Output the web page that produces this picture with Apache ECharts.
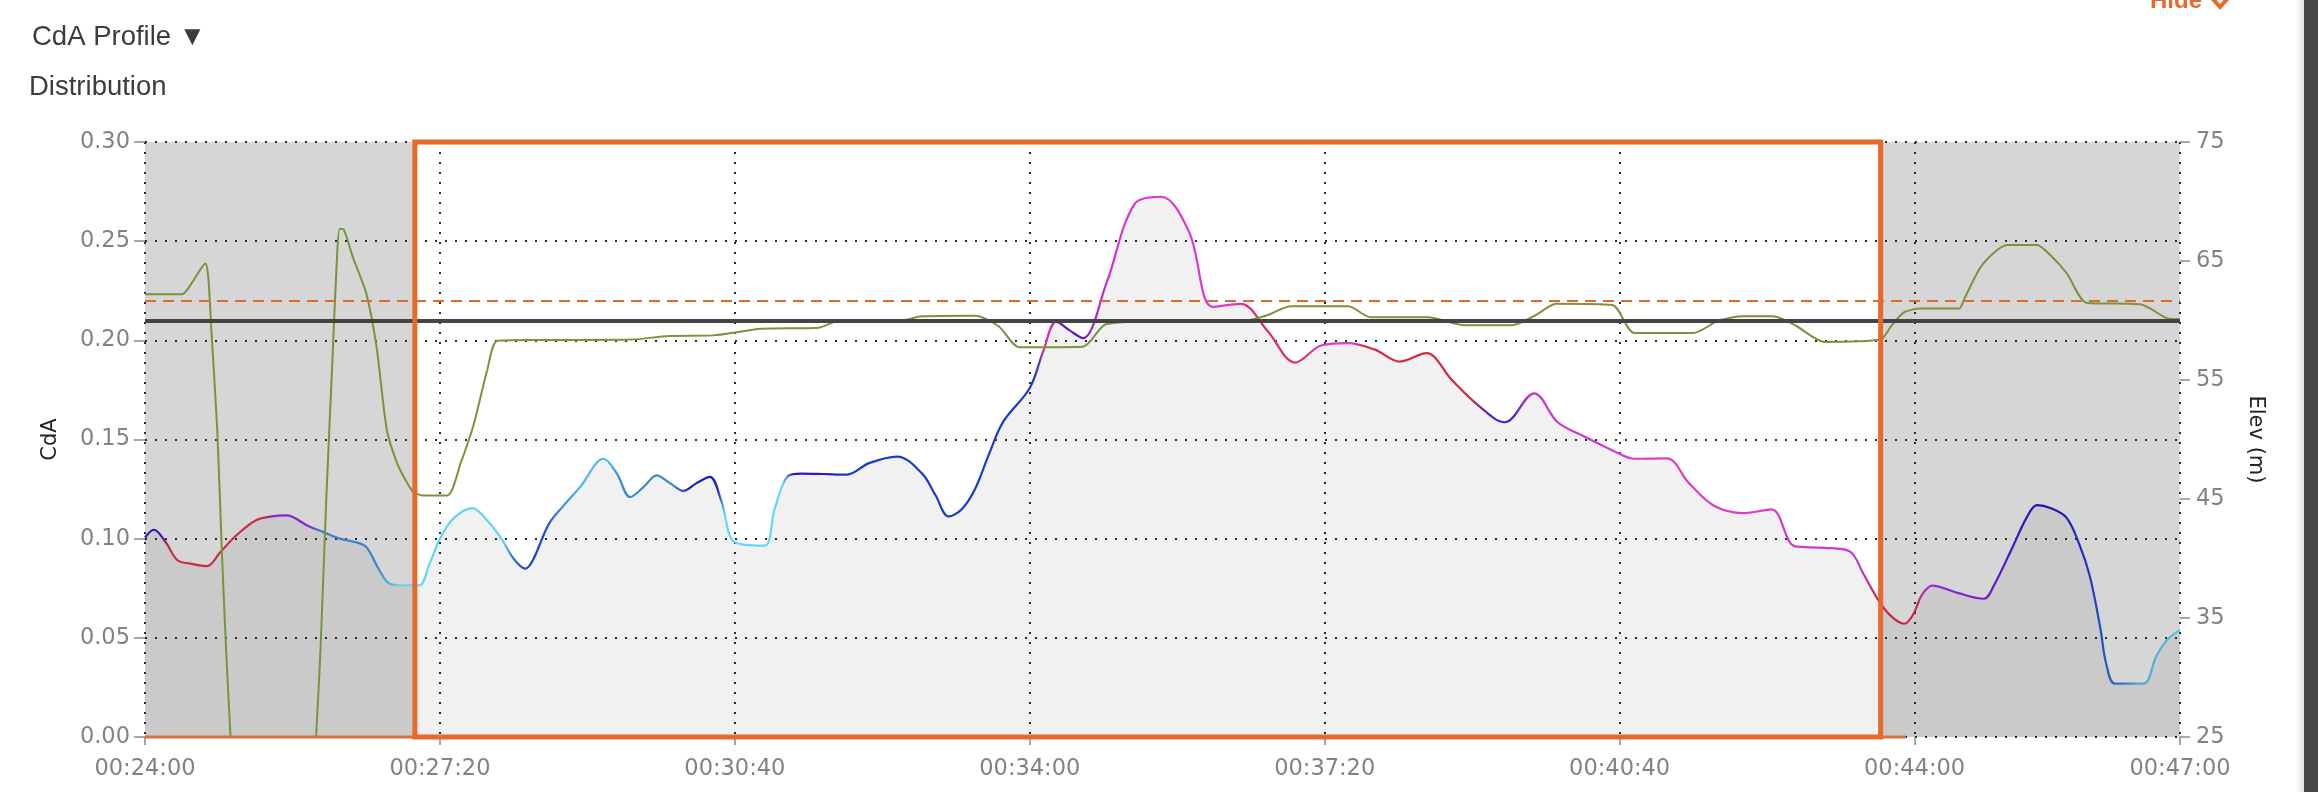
<!DOCTYPE html>
<html>
<head>
<meta charset="utf-8">
<script src="https://cdn.jsdelivr.net/npm/echarts@6/dist/echarts.min.js"></script>
<style>
html,body{margin:0;padding:0;background:#ffffff;}
#chart{width:2318px;height:792px;}
</style>
</head>
<body>
<div id="chart"></div>
<script>
// ---- data (time in seconds of ride) ----
const cdaTime = [1440,1446,1454,1462,1471,1482,1491,1502,1515,1526,1536,1550,1561,1572,1581,1590,1599,1606,1617,1626,1633,1640,1649,1662,1672,1681,1690,1698,1703,1714,1724,1735,1751,1760,1769,1778,1787,1796,1805,1814,1823,1831,1840,1860,1867,1876,1885,1900,1916,1931,1950,1967,1976,1985,1994,2003,2012,2022,2040,2049,2058,2067,2076,2092,2111,2129,2148,2164,2183,2201,2220,2238,2256,2274,2291,2309,2326,2344,2362,2382,2398,2416,2438,2450,2472,2487,2504,2524,2543,2559,2579,2596,2605,2614,2623,2633,2639,2645,2652,2669,2687,2694,2707,2716,2723,2732,2743,2752,2759,2766,2770,2776,2795,2804,2811,2820];
const cdaValue = [0.1005,0.1045,0.0983,0.0891,0.0874,0.0862,0.0932,0.1017,0.1092,0.1112,0.1117,0.1067,0.1033,0.1000,0.0986,0.0958,0.0840,0.0773,0.0765,0.0765,0.0874,0.1000,0.1101,0.1154,0.1092,0.1008,0.0899,0.0849,0.0891,0.1076,0.1168,0.1260,0.1403,0.1328,0.1210,0.1260,0.1319,0.1280,0.1241,0.1280,0.1312,0.1187,0.0982,0.0965,0.1150,0.1316,0.1328,0.1326,0.1323,0.1381,0.1414,0.1328,0.1220,0.1112,0.1150,0.1252,0.1420,0.1590,0.1760,0.1942,0.2094,0.2050,0.2011,0.2288,0.2687,0.2724,0.2547,0.2169,0.2184,0.2050,0.1888,0.1975,0.1986,0.1953,0.1893,0.1936,0.1802,0.1673,0.1587,0.1733,0.1587,0.1515,0.1435,0.1403,0.1405,0.1280,0.1166,0.1129,0.1148,0.0961,0.0954,0.0936,0.0827,0.0707,0.0617,0.0571,0.0617,0.0717,0.0763,0.0727,0.0697,0.0767,0.0966,0.1106,0.1169,0.1155,0.1106,0.0966,0.0807,0.0548,0.0368,0.0269,0.0269,0.0408,0.0488,0.0540];

const elevTime = [1440,1465,1472,1481,1483,1485,1489,1492,1495,1498,1503,1550,1556,1559,1563,1567,1570,1572,1575,1581,1590,1597,1604,1611,1618,1622,1628,1645,1654,1663,1672,1679,1704,1770,1795,1825,1858,1897,1911,1952,1967,2003,2019,2033,2076,2092,2147,2186,2201,2217,2256,2271,2310,2335,2367,2383,2397,2435,2450,2490,2507,2524,2544,2559,2579,2617,2624,2633,2644,2670,2674,2686,2703,2723,2732,2743,2757,2793,2811,2820];
const elevValue = [62.2,62.2,63.2,64.8,63.5,59.2,50.8,41.0,32.3,25.0,12,12,25.0,32.3,45.2,56.4,64.8,67.7,67.6,65.3,62.3,57.8,50.8,48.0,46.3,45.6,45.3,45.3,48.0,51.3,55.8,58.3,58.36,58.4,58.7,58.75,59.3,59.4,60.0,60.0,60.35,60.4,59.5,57.75,57.8,59.7,60.0,60.0,60.44,61.2,61.2,60.27,60.27,59.6,59.6,60.44,61.4,61.3,58.94,58.94,60.0,60.35,60.35,59.6,58.2,58.4,59.5,60.7,61.0,61.0,61.9,64.7,66.35,66.35,65.5,64.0,61.47,61.37,60.2,60.1];

// colour of the CdA trace along time
const cdaColourStops = [
  [1440,'#3412b4'],[1452,'#3412b4'],[1458,'#c83042'],[1522,'#c83042'],[1528,'#8a22d8'],[1552,'#8a22d8'],
  [1560,'#3a7cd0'],[1598,'#3a86d2'],[1606,'#48b0e2'],[1614,'#62d6f2'],[1684,'#62d4f0'],[1690,'#3a78d4'],
  [1700,'#2040c8'],[1712,'#2448c8'],[1722,'#3a86d8'],[1738,'#50bcea'],[1754,'#50bcea'],[1762,'#3a8ad8'],
  [1800,'#3a84d0'],[1810,'#1a1ebe'],[1829,'#1a1ebe'],[1834,'#62d8f2'],[1873,'#62d8f2'],[1880,'#3018c8'],
  [1905,'#3018c8'],[1915,'#1a3ac8'],[2044,'#1a3ac8'],[2051,'#e03092'],[2056,'#c828b8'],[2063,'#5a18c8'],
  [2074,'#5a18c8'],[2082,'#9a24d8'],[2096,'#d236d2'],[2178,'#dc38cc'],[2190,'#e0285e'],[2226,'#e02e6e'],
  [2236,'#d840c4'],[2258,'#d840c4'],[2268,'#d62a3c'],[2338,'#d02a44'],[2354,'#4420d0'],[2368,'#4420d0'],
  [2378,'#c232d2'],[2440,'#d63ac8'],[2480,'#e040b8'],[2540,'#d83ac8'],[2600,'#c03ad8'],[2614,'#c82848'],
  [2638,'#c82848'],[2648,'#b030d0'],[2660,'#8a22d0'],[2688,'#7020c8'],[2700,'#4818c8'],[2722,'#2010b8'],
  [2745,'#2020b8'],[2760,'#2040c0'],[2778,'#3070c8'],[2790,'#4aa8d8'],[2820,'#58c0e0']
];

const xMin = 1440, xMax = 2820, xStep = 200;
const cdaMin = 0, cdaMax = 0.30, cdaStep = 0.05;
const elevMin = 25, elevMax = 75, elevStep = 10;
const cdaMeanLine = 0.2075;
const cdaTargetLine = 0.222;
const selectionStart = 1623, selectionEnd = 2617;
const zeroMarkEnd = 2634;

function hms(s) {
  s = Math.round(s);
  const h = Math.floor(s / 3600), m = Math.floor((s % 3600) / 60), sec = s % 60;
  const p = n => (n < 10 ? '0' : '') + n;
  return p(h) + ':' + p(m) + ':' + p(sec);
}

const chart = echarts.init(document.getElementById('chart'), null, {renderer: 'canvas'});

const gradient = new echarts.graphic.LinearGradient(0, 0, 1, 0,
  cdaColourStops.map(([t, c]) => ({offset: (t - xMin) / (xMax - xMin), color: c})));

const labelFont = 'DejaVu Sans';
const dotted = {color: '#2a2a2a', width: 2, type: [2, 8]};

const option = {
  animation: false,
  backgroundColor: '#ffffff',
  grid: {left: 145, top: 142, width: 2035, height: 595, containLabel: false},
  xAxis: {
    type: 'value', min: xMin, max: xMax, interval: xStep,
    axisLine: {show: false},
    axisTick: {show: true, length: 8, lineStyle: {color: '#8a8a8a', width: 1.5}},
    axisLabel: {formatter: v => hms(v), color: '#828282', fontSize: 22.5, fontFamily: labelFont, margin: 21, showMinLabel: true, showMaxLabel: true},
    splitLine: {show: true, lineStyle: dotted}
  },
  yAxis: [
    {
      type: 'value', min: cdaMin, max: cdaMax, interval: cdaStep, position: 'left',
      name: 'CdA', nameLocation: 'middle', nameGap: 84, nameRotate: 90,
      nameTextStyle: {color: '#222', fontSize: 21, fontFamily: labelFont},
      axisLine: {show: false},
      axisTick: {show: true, length: 11, lineStyle: {color: '#8a8a8a', width: 1.5}},
      axisLabel: {formatter: v => v.toFixed(2), color: '#828282', fontSize: 22.5, fontFamily: labelFont, margin: 15},
      splitLine: {show: true, lineStyle: dotted}
    },
    {
      type: 'value', min: elevMin, max: elevMax, interval: elevStep, position: 'right',
      name: 'Elev (m)', nameLocation: 'middle', nameGap: 65, nameRotate: -90,
      nameTextStyle: {color: '#222', fontSize: 21, fontFamily: labelFont},
      axisLine: {show: false},
      axisTick: {show: true, length: 10, lineStyle: {color: '#8a8a8a', width: 1.5}},
      axisLabel: {color: '#828282', fontSize: 22.5, fontFamily: labelFont, margin: 16},
      splitLine: {show: false}
    }
  ],
  series: [
    {
      // unselected (greyed) parts of the ride
      type: 'line', name: 'bands', data: [], silent: true,
      markArea: {
        silent: true, z: -1,
        itemStyle: {color: '#d6d6d6'},
        data: [
          [{xAxis: xMin}, {xAxis: selectionStart}],
          [{xAxis: selectionEnd}, {xAxis: xMax}]
        ]
      }
    },
    {
      type: 'line', name: 'CdA', yAxisIndex: 0,
      data: cdaTime.map((t, i) => [t, cdaValue[i]]),
      smooth: 0.35, symbol: 'none', showSymbol: false, z: 3,
      lineStyle: {width: 2.2, color: gradient},
      areaStyle: {color: 'rgba(0,0,0,0.08)'}
    },
    {
      type: 'line', name: 'Elev', yAxisIndex: 1,
      data: elevTime.map((t, i) => [t, elevValue[i]]),
      smooth: 0.25, symbol: 'none', showSymbol: false, z: 3,
      lineStyle: {width: 2, color: '#76953c'}
    },
    {
      type: 'line', name: 'refs', yAxisIndex: 0, data: [], silent: true,
      markLine: {
        silent: true, symbol: 'none', z: 5, label: {show: false},
        data: [
          {yAxis: cdaTargetLine, lineStyle: {color: '#e0692c', width: 2, type: [11, 7]}},
          {yAxis: cdaMeanLine, lineStyle: {color: '#444444', width: 4, type: 'solid'}}
        ]
      }
    },
    {
      type: 'line', name: 'zero', yAxisIndex: 0, clip: false, silent: true,
      data: [[xMin, 0], [zeroMarkEnd, 0]],
      symbol: 'none', z: 4,
      lineStyle: {color: '#d9743e', width: 3}
    },
    {
      type: 'line', name: 'selection', yAxisIndex: 0, data: [], silent: true,
      markArea: {
        silent: true, z: 8,
        itemStyle: {color: 'rgba(0,0,0,0)', borderColor: '#e8692a', borderWidth: 5},
        data: [[{xAxis: selectionStart, yAxis: cdaMin}, {xAxis: selectionEnd, yAxis: cdaMax}]]
      }
    }
  ],
  graphic: [
    {type: 'text', left: 32, top: 23, style: {text: 'CdA Profile ▼', font: '27.5px "Liberation Sans", Arial, sans-serif', fill: '#3c3c3c'}},
    {type: 'text', left: 29, top: 73, style: {text: 'Distribution', font: '27.5px "Liberation Sans", Arial, sans-serif', fill: '#3c3c3c'}},
    {type: 'text', x: 2150, y: -11, style: {text: 'Hide', font: 'bold 24px "Liberation Sans", Arial, sans-serif', fill: '#e8692a'}},
    {type: 'polyline', shape: {points: [[2212, -2], [2220, 7], [2228, -2]]}, style: {stroke: '#e8692a', lineWidth: 4, fill: 'none'}},
    {type: 'rect', shape: {x: 2296, y: 0, width: 8, height: 792},
      style: {fill: new echarts.graphic.LinearGradient(0, 0, 1, 0, [{offset: 0, color: 'rgba(0,0,0,0)'}, {offset: 1, color: 'rgba(0,0,0,0.12)'}])}},
    {type: 'rect', shape: {x: 2304, y: 0, width: 14, height: 792}, style: {fill: '#474747'}}
  ]
};
chart.setOption(option);
</script>
</body>
</html>
